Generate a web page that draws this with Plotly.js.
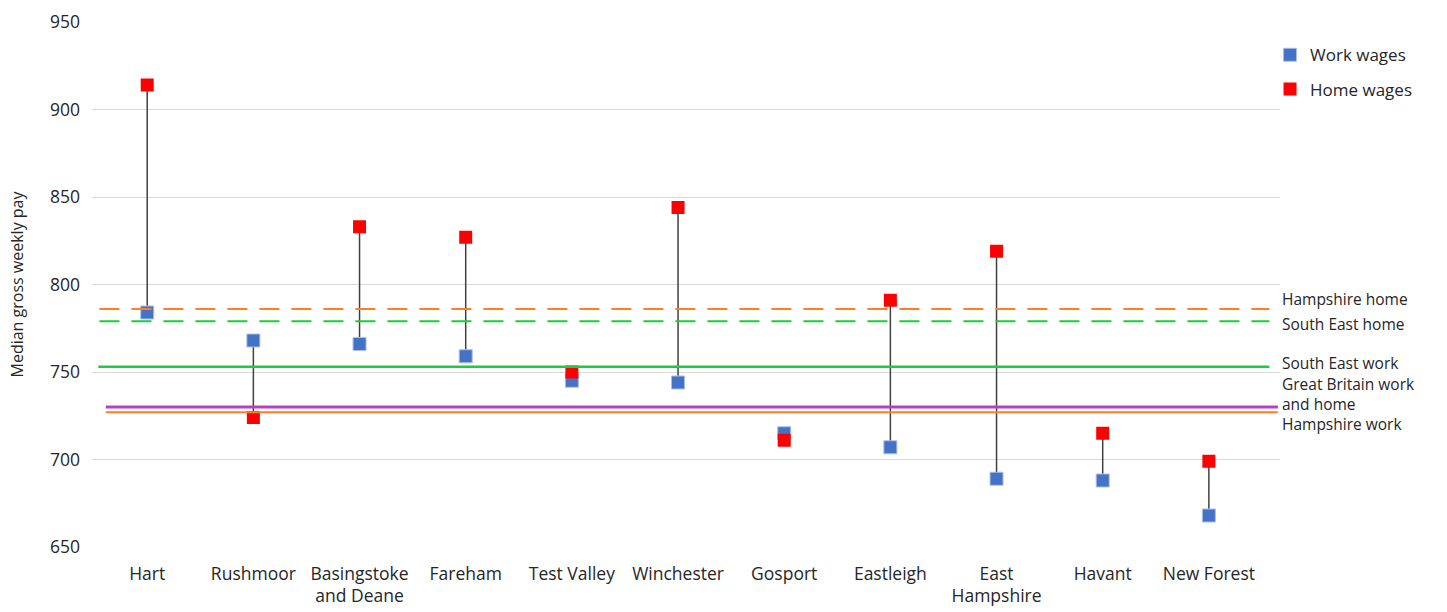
<!DOCTYPE html>
<html>
<head>
<meta charset="utf-8">
<script src="https://cdn.plot.ly/plotly-3.0.1.min.js"></script>
<style>
  html, body { margin: 0; padding: 0; background: #fff; }
  #chart { width: 1447px; height: 612px; }
</style>
</head>
<body>
<div id="chart"></div>
<script>
// ---- data ----
const categories = ["Hart", "Rushmoor", "Basingstoke<br>and Deane", "Fareham", "Test Valley", "Winchester",
                    "Gosport", "Eastleigh", "East<br>Hampshire", "Havant", "New Forest"];
const workWages = [784, 768, 766, 759, 745, 744, 715, 707, 689, 688, 668];
const homeWages = [914, 724, 833, 827, 750, 844, 711, 791, 819, 715, 699];

const refNames  = ["Hampshire home", "South East home", "South East work", "Great Britain work and home", "Hampshire work"];
const refValues = [786, 779, 753, 730, 727];
const refLabels = ["Hampshire home", "South East home", "South East work", "Great Britain work<br>and home", "Hampshire work"];

const yTicks = [650, 700, 750, 800, 850, 900, 950];

// ---- styles ----
const FONT = "Open Sans, Noto Sans, sans-serif";
const TXT = "#262626";
const refStyles = [
  {color: "#FF7F27", width: 2, dash: "20px,12px", x0: -0.45},
  {color: "#1ACC40", width: 2, dash: "20px,12px", x0: -0.45},
  {color: "#1ACC40", width: 2.5, dash: "solid", x0: -0.46},
  {color: "#B83FC0", width: 3, dash: "solid", x0: -0.39},
  {color: "#FF7F27", width: 2, dash: "solid", x0: -0.39}
];
const refX1 = [10.57, 10.57, 10.57, 10.65, 10.65];
const labelShift = [10, -3, 4, 13, -12];

const xIdx = categories.map((_, i) => i);

// connectors
const cx = [], cy = [];
xIdx.forEach(i => { cx.push(i, i, null); cy.push(workWages[i], homeWages[i], null); });

const traces = [];
traces.push({
  x: cx, y: cy, mode: "lines", type: "scatter",
  line: {color: "#404040", width: 1.5},
  showlegend: false, hoverinfo: "skip"
});
traces.push({
  x: xIdx, y: workWages, mode: "markers", type: "scatter", name: "Work wages",
  legendgroup: "w",
  marker: {symbol: "square", size: 13, color: "#4472C4", line: {color: "#A9BFE8", width: 1}}
});
traces.push({
  x: xIdx, y: homeWages, mode: "markers", type: "scatter", name: "Home wages",
  legendgroup: "h",
  marker: {symbol: "square", size: 13, color: "#FF0000", line: {color: "#FF0000", width: 0}}
});
refValues.forEach((v, k) => {
  traces.push({
    x: [refStyles[k].x0, refX1[k]], y: [v, v], mode: "lines", type: "scatter",
    name: refNames[k], showlegend: false, hoverinfo: "skip",
    line: {color: refStyles[k].color, width: refStyles[k].width, dash: refStyles[k].dash}
  });
});

const annotations = refLabels.map((t, k) => ({
  xref: "paper", yref: "y", x: 1.0, y: refValues[k], xanchor: "left", yanchor: "middle",
  text: t, showarrow: false, align: "left", yshift: labelShift[k],
  font: {family: FONT, size: 15.5, color: TXT}
}));

const layout = {
  width: 1447, height: 612,
  margin: {l: 92, r: 167, t: 22, b: 65},
  paper_bgcolor: "#fff", plot_bgcolor: "#fff",
  showlegend: true,
  legend: {
    x: 0.9916, xanchor: "left", y: 0.971, yanchor: "top",
    traceorder: "grouped", tracegroupgap: 9,
    font: {family: FONT, size: 17, color: TXT},
    bgcolor: "rgba(0,0,0,0)"
  },
  xaxis: {
    range: [-0.52, 10.67],
    tickmode: "array", tickvals: xIdx, ticktext: categories,
    showgrid: false, zeroline: false, showline: false, ticks: "",
    ticklabelstandoff: 14,
    tickfont: {family: FONT, size: 17.5, color: TXT}
  },
  yaxis: {
    range: [650, 950],
    tickmode: "array", tickvals: yTicks,
    showgrid: true, gridcolor: "#D9D9D9", gridwidth: 1,
    zeroline: false, showline: false, ticks: "",
    ticklabelstandoff: 11,
    tickfont: {family: FONT, size: 17.5, color: TXT},
    title: {text: "Median gross weekly pay", standoff: 22, font: {family: FONT, size: 16, color: TXT}}
  },
  annotations: annotations
};

Plotly.newPlot("chart", traces, layout, {displayModeBar: false, staticPlot: true});
</script>
</body>
</html>
